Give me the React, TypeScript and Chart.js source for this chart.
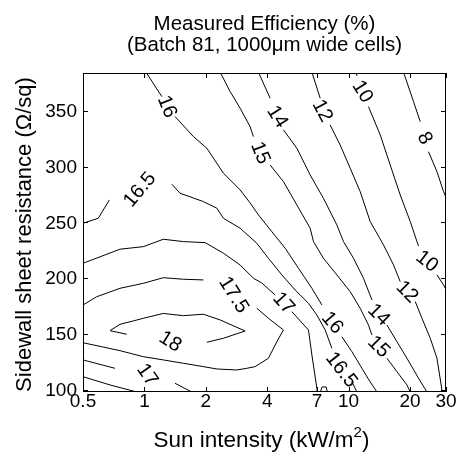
import React, { useEffect, useRef } from "react";
import { Chart, registerables } from "chart.js";

Chart.register(...registerables);

// Axis settings (data units)
const xTicks = [0.5, 1, 2, 4, 7, 10, 20, 30];
const yTicks = [100, 150, 200, 250, 300, 350];
const xMin = 0.5;
const xMax = 30;
const yMin = 98.2;
const yMax = 383.7;

// Contour lines: each level is a list of segments of [sun intensity, sheet resistance]
const contour8 = [
  [[18.58, 384.4], [20.8, 358.1], [22.43, 340.2]],
  [[24.63, 313.3], [27.09, 295.4], [29.19, 277.5], [30.08, 271.9]],
];
const contour10 = [
  [[10.77, 384.4], [11.02, 381.1]],
  [[12.51, 353.6], [14.29, 328.3], [15.99, 301.4], [17.9, 274.6], [20.05, 250.7], [21.62, 232.8], [22.01, 228.9]],
  [[27.09, 203.0], [29.19, 194.0], [30.08, 189.5]],
];
const contour12 = [
  [[6.61, 384.4], [7.26, 361.1]],
  [[8.12, 337.2], [9.09, 319.3], [10.18, 298.5], [11.4, 277.5], [12.76, 250.7], [14.83, 229.8], [16.6, 211.9], [17.9, 197.0]],
  [[21.21, 179.1], [22.87, 164.2], [25.12, 146.3], [27.09, 128.4], [28.66, 100], [28.8, 98.2]],
];
const contour14 = [
  [[3.617, 384.4], [4.127, 361.1]],
  [[4.796, 332.8], [5.578, 316.4], [6.48, 292.5], [7.53, 271.6], [8.76, 247.7], [9.44, 232.8], [10.57, 217.9], [11.83, 200.0], [13.01, 180.6]],
  [[15.41, 158.2], [17.25, 143.2], [19.31, 128.4], [22.01, 110.5], [24.2, 98.2]],
];
const contour15 = [
  [[2.348, 384.4], [2.628, 367.1], [2.942, 352.2], [3.293, 335.7], [3.418, 326.8]],
  [[4.127, 301.4], [4.796, 286.5], [5.578, 265.6], [6.48, 244.8], [6.73, 232.8], [7.53, 217.9], [8.76, 203.0], [10.18, 188.0], [11.4, 173.1], [12.51, 158.2], [13.01, 149.2]],
  [[15.41, 128.4], [17.25, 116.4], [19.31, 104.5], [20.05, 98.2]],
];
const contour16 = [
  [[1.018, 384.4], [1.216, 362.6]],
  [[1.412, 344.7], [1.737, 326.8], [2.02, 316.4], [2.437, 294.0], [2.942, 279.1], [3.293, 267.4], [3.617, 256.7], [4.207, 241.7], [4.889, 226.9], [5.68, 209.0], [6.61, 191.0], [7.4, 176.1]],
  [[9.27, 147.7], [10.38, 134.3], [11.62, 119.4], [12.76, 107.2], [13.77, 98.2]],
];
const contour16_5 = [
  [[0.5, 249.2], [0.594, 253.7], [0.673, 270.1]],
  [[1.361, 284.2], [1.494, 276.1], [1.944, 268.6], [2.262, 262.7], [2.437, 253.7], [2.942, 244.8], [3.552, 231.3], [4.048, 217.9], [4.71, 203.0], [5.472, 189.5], [6.36, 177.6], [6.99, 167.1], [7.68, 153.7], [8.28, 137.3]],
  [[10.38, 107.4], [10.98, 98.2]],
  [[0.5, 111.9], [0.678, 104.5], [0.917, 98.2]],
];
const contour17 = [
  [[0.5, 213.4], [0.759, 226.0], [0.988, 228.3], [1.237, 234.9], [1.551, 232.8], [1.982, 231.9], [2.437, 222.4], [2.942, 211.9], [3.418, 200.0], [3.758, 195.8], [4.367, 185.0]],
  [[5.272, 170.1], [6.36, 153.7], [6.61, 131.3], [6.99, 101.5], [7.02, 98.2]],
  [[7.26, 98.2], [7.42, 102.7], [7.77, 102.7], [7.86, 98.2]],
  [[0.5, 126.9], [0.717, 119.4]],
  [[1.412, 106.0], [1.705, 98.2]],
];
const contour17_5 = [
  [[0.5, 176.1], [0.584, 183.5], [0.759, 191.0], [0.988, 195.5], [1.237, 200.5], [1.551, 199.1], [1.944, 198.5]],
  [[3.552, 173.1], [4.048, 164.2], [4.796, 153.7], [4.451, 143.2], [4.048, 128.4], [3.484, 120.9], [3.173, 119.4], [2.834, 117.9], [2.262, 118.8], [1.944, 120.9], [1.551, 123.9], [1.237, 126.9], [0.988, 129.8], [0.759, 135.2], [0.5, 142.3]],
];
const contour18 = [
  [[0.819, 149.9], [0.678, 153.1], [0.759, 158.8], [0.882, 161.8], [0.988, 164.2], [1.237, 168.5], [1.551, 166.5], [1.944, 167.8], [2.348, 162.7], [3.112, 152.8], [2.437, 146.3], [2.02, 142.7]],
];

// Contour labels: [text, sun intensity, sheet resistance, rotation in degrees]
const contourLabels: [string, number, number, number][] = [
  ["16", 1.286, 353.6, 68],
  ["16.5", 0.951, 279.1, -50],
  ["15", 3.686, 312.2, 68],
  ["14", 4.466, 344.4, 58],
  ["12", 7.42, 349.8, 62],
  ["10", 11.66, 366.8, 58],
  ["8", 23.55, 325.3, 62],
  ["10", 24.2, 214.9, 38],
  ["12", 19.31, 187.7, 45],
  ["14", 14.02, 167.1, 45],
  ["15", 14.02, 138.5, 45],
  ["16", 8.31, 160.0, 50],
  ["16.5", 9.2, 117.9, 52],
  ["17", 4.796, 177.6, 48],
  ["17.5", 2.728, 185.0, 58],
  ["18", 1.335, 143.2, 32],
  ["17", 1.03, 113.4, 55],
];

const levels = [contour8, contour10, contour12, contour14, contour15, contour16, contour16_5, contour17, contour17_5, contour18];

const FONT = '"Liberation Sans", Arial, Helvetica, sans-serif';

const decorPlugin = {
  id: "decor",
  afterDatasetsDraw(chart: any) {
    const { ctx, chartArea: a, scales } = chart;
    const xs = scales.x;
    const ys = scales.y;
    ctx.save();
    ctx.fillStyle = "#000";
    ctx.strokeStyle = "#000";

    // contour labels
    ctx.font = `20px ${FONT}`;
    ctx.textAlign = "center";
    ctx.textBaseline = "middle";
    for (const [t, lx, ly, ang] of contourLabels) {
      const px = xs.getPixelForValue(lx);
      const py = ys.getPixelForValue(ly);
      ctx.save();
      ctx.translate(px, py);
      ctx.rotate((ang * Math.PI) / 180);
      ctx.fillText(t, 0, 0);
      ctx.restore();
    }

    // frame
    ctx.lineWidth = 1;
    ctx.strokeRect(a.left + 0.5, a.top + 0.5, a.right - a.left - 1, a.bottom - a.top - 1);

    // ticks (inward, all four sides)
    const tl = 5;
    ctx.beginPath();
    for (const v of xTicks) {
      const px = Math.round(xs.getPixelForValue(v)) + 0.5;
      ctx.moveTo(px, a.bottom);
      ctx.lineTo(px, a.bottom - tl);
      ctx.moveTo(px, a.top);
      ctx.lineTo(px, a.top + tl);
    }
    for (const v of yTicks) {
      const py = Math.round(ys.getPixelForValue(v)) + 0.5;
      ctx.moveTo(a.left, py);
      ctx.lineTo(a.left + tl, py);
      ctx.moveTo(a.right, py);
      ctx.lineTo(a.right - tl, py);
    }
    ctx.stroke();

    // tick labels
    ctx.font = `19px ${FONT}`;
    ctx.textAlign = "center";
    ctx.textBaseline = "alphabetic";
    for (const v of xTicks) {
      ctx.fillText(String(v), xs.getPixelForValue(v), a.bottom + 15);
    }
    ctx.textAlign = "right";
    ctx.textBaseline = "middle";
    for (const v of yTicks) {
      ctx.fillText(String(v), a.left - 6, ys.getPixelForValue(v) + 1);
    }

    // title
    const cx = (a.left + a.right) / 2;
    ctx.font = `20.5px ${FONT}`;
    ctx.textAlign = "center";
    ctx.textBaseline = "alphabetic";
    ctx.fillText("Measured Efficiency (%)", cx, 30);
    ctx.fillText("(Batch 81, 1000\u03bcm wide cells)", cx, 51);

    // x axis title with superscript
    ctx.font = `22.5px ${FONT}`;
    const main = "Sun intensity (kW/m";
    const close = ")";
    const wMain = ctx.measureText(main).width;
    const wClose = ctx.measureText(close).width;
    ctx.font = `15px ${FONT}`;
    const wSup = ctx.measureText("2").width;
    const total = wMain + wSup + wClose;
    const sx = cx - 3 - total / 2;
    const by = 447;
    ctx.textAlign = "left";
    ctx.font = `22.5px ${FONT}`;
    ctx.fillText(main, sx, by);
    ctx.font = `15px ${FONT}`;
    ctx.fillText("2", sx + wMain, by - 10);
    ctx.font = `22.5px ${FONT}`;
    ctx.fillText(close, sx + wMain + wSup, by);

    // y axis title
    ctx.font = `22px ${FONT}`;
    ctx.save();
    ctx.translate(31, (a.top + a.bottom) / 2 + 2);
    ctx.rotate(-Math.PI / 2);
    ctx.textAlign = "center";
    ctx.textBaseline = "alphabetic";
    ctx.fillText("Sidewall sheet resistance (\u03a9/sq)", 0, 0);
    ctx.restore();

    ctx.restore();
  },
};

export default function App() {
  const ref = useRef<HTMLCanvasElement | null>(null);

  useEffect(() => {
    if (!ref.current) return;
    const datasets: any[] = [];
    for (const lvl of levels) {
      for (const seg of lvl) {
        datasets.push({
          data: seg.map(([x, y]) => ({ x, y })),
          showLine: true,
          borderColor: "#000",
          borderWidth: 1,
          pointRadius: 0,
          tension: 0,
          clip: 0,
        });
      }
    }
    const chart = new Chart(ref.current, {
      type: "scatter",
      data: { datasets },
      options: {
        responsive: false,
        animation: false,
        devicePixelRatio: 1,
        layout: { padding: { top: 73, right: 10, left: 0, bottom: 0 } },
        plugins: {
          legend: { display: false },
          tooltip: { enabled: false },
          title: { display: false },
        },
        scales: {
          x: {
            type: "logarithmic",
            min: xMin,
            max: xMax,
            ticks: { display: false },
            grid: { display: false },
            border: { display: false },
            afterFit: (s: any) => {
              s.height = 61;
            },
          },
          y: {
            type: "linear",
            min: yMin,
            max: yMax,
            ticks: { display: false },
            grid: { display: false },
            border: { display: false },
            afterFit: (s: any) => {
              s.width = 83;
            },
          },
        },
      } as any,
      plugins: [decorPlugin],
    });
    return () => chart.destroy();
  }, []);

  return (
    <div style={{ position: "fixed", left: 0, top: 0, width: 456, height: 453, background: "#fff" }}>
      <canvas ref={ref} width={456} height={453} style={{ display: "block" }} />
    </div>
  );
}
